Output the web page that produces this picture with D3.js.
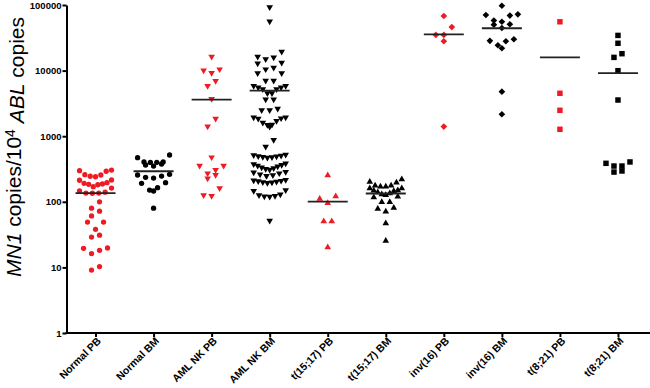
<!DOCTYPE html>
<html>
<head>
<meta charset="utf-8">
<script src="https://cdn.jsdelivr.net/npm/d3@7"></script>
<style>
  body { margin: 0; background: #fff; }
  svg { font-family: "Liberation Sans", Arial, sans-serif; }
  .axis path, .axis line { stroke: #000; stroke-width: 2; }
  .axis text { font-size: 9.5px; font-weight: bold; fill: #000; }
  .xaxis text { font-size: 10.5px; }
</style>
</head>
<body>
<div id="chart"></div>
<script>
// categories along the x axis
var categories = ["Normal PB", "Normal BM", "AML NK PB", "AML NK BM", "t(15;17) PB",
                  "t(15;17) BM", "inv(16) PB", "inv(16) BM", "t(8;21) PB", "t(8;21) BM"];

// MN1 copies / 10^4 ABL copies
var normalPB = [305, 298, 292, 259, 256, 245, 241, 215, 213, 196, 191, 187, 185, 182,
                170, 162, 146, 140, 136, 136, 135, 100, 80, 72, 61, 49, 49, 38, 31, 29,
                19.8, 19.5, 18.2, 16.2, 10.3, 9.1];
var normalBM = [517, 470, 405, 405, 400, 398, 377, 364, 351, 262, 256, 247, 236, 230,
                196, 191, 164, 151, 146, 80];
var amlNkPB = [16300, 10470, 10100, 9190, 6940, 5820, 3690, 1850, 1415, 477, 355, 355,
               305, 272, 256, 228, 161, 126, 123];
var amlNkBM = [92300, 56400, 19400, 16300, 15900, 14900, 13200, 12900, 11100, 10470,
               9100, 9100, 7020, 7020, 5820, 5820, 5560, 5560, 5190, 5190, 4510, 4510,
               3650, 3650, 2620, 2500, 2500, 1940, 1940, 1875, 1850, 1706, 1607, 1497,
               1480, 1397, 875, 692,
               525, 515, 505, 495, 490, 485, 480, 470,
               385, 375, 365, 355, 345, 335, 325, 318, 310,
               285, 280, 272, 262, 255, 248,
               215, 212, 209, 206, 203, 200, 197, 194,
               150, 146, 130, 126, 123, 121, 120, 51.5];
var t1517PB = [254, 121, 111, 96, 50.5, 50.5, 20.2];
var t1517BM = [220, 202, 196, 176, 176, 170, 170, 161, 161, 150, 148, 146, 140, 135,
               130, 127, 120, 117, 99, 99, 81, 78, 71, 47, 25.5];
var inv16PB = [68000, 46000, 35000, 35000, 28000, 1400];
var inv16BM = [97500, 72100, 70400, 68900, 58100, 55500, 50800, 50100, 44600, 30000,
               28400, 28000, 24300, 21900, 4770, 2160];
var t821PB = [55500, 4510, 2480, 1275];
var t821BM = [34400, 26100, 18100, 15900, 9970, 3560, 405, 386, 351, 351, 295, 284];

var yTicks = [1, 10, 100, 1000, 10000, 100000];

var seriesValues = [normalPB, normalBM, amlNkPB, amlNkBM, t1517PB,
                    t1517BM, inv16PB, inv16BM, t821PB, t821BM];

// marker style for each column
var red = "#ed1c24";
var markers = [
  {shape: "circle", color: red}, {shape: "circle", color: "#000"},
  {shape: "down", color: red}, {shape: "down", color: "#000"},
  {shape: "up", color: red}, {shape: "up", color: "#000"},
  {shape: "diamond", color: red}, {shape: "diamond", color: "#000"},
  {shape: "square", color: red}, {shape: "square", color: "#000"}
];

var w = 650;
var h = 388;

var svg = d3.select("#chart").append("svg")
  .attr("width", w)
  .attr("height", h);

var yScale = d3.scaleLog().domain([1, 100000]).range([333, 5]);
var xScale = d3.scalePoint().domain(categories).range([66.5, 647]).padding(0.5);

// prism style rows: points close in y share a row, smallest in the middle
function swarm(values, cx){
  var pts = values.map(function(v){ return {v: v, y: yScale(v)}; })
    .sort(function(a, b){ return a.y - b.y; });
  var out = [];
  var i = 0;
  while (i < pts.length){
    var start = pts[i].y;
    var row = [];
    while (i < pts.length && pts[i].y - start <= 7.8){ row.push(pts[i]); i++; }
    row.sort(function(a, b){ return a.v - b.v; });
    var n = row.length;
    var gap = n > 1 ? Math.min(8, 32 / (n - 1)) : 0;
    row.forEach(function(p, k){
      var slot;
      if (n % 2 == 1){
        slot = k == 0 ? 0 : (k % 2 == 1 ? -Math.ceil(k / 2) : Math.ceil(k / 2));
      } else {
        slot = (k % 2 == 0 ? -1 : 1) * (Math.floor(k / 2) + 0.5);
      }
      out.push({v: p.v, x: cx + slot * gap, y: p.y});
    });
  }
  return out;
}

function symbolPath(shape){
  if (shape == "circle") return d3.symbol(d3.symbolCircle, 22)();
  if (shape == "square") return d3.symbol(d3.symbolSquare, 30)();
  if (shape == "diamond") return d3.symbol(d3.symbolSquare, 22)();
  return d3.symbol(d3.symbolTriangle, 19)();
}
function symbolRotate(shape){
  if (shape == "down") return 180;
  if (shape == "diamond") return 45;
  return 0;
}

// y axis
var yAxis = d3.axisLeft(yScale).tickValues(yTicks).tickFormat(d3.format("d"))
  .tickSize(4).tickSizeOuter(0);
svg.append("g")
  .attr("class", "axis")
  .attr("transform", "translate(66.5, 0)")
  .call(yAxis)
  .selectAll("text").attr("x", -5);

// x axis
var xAxis = d3.axisBottom(xScale).tickSize(4).tickSizeOuter(0);
var gx = svg.append("g")
  .attr("class", "axis xaxis")
  .attr("transform", "translate(0, 333)")
  .call(xAxis);
gx.select(".domain").remove();
gx.append("line")
  .attr("x1", 65.5).attr("x2", w)
  .attr("y1", 0).attr("y2", 0);
gx.selectAll("text")
  .attr("x", 0).attr("y", 0).attr("dy", "0.35em")
  .attr("text-anchor", "end")
  .attr("transform", "translate(3, 6) rotate(-45)");

// y title
var title = svg.append("text")
  .attr("transform", "translate(21, 147) rotate(-90)")
  .attr("text-anchor", "middle")
  .style("font-size", "21px");
title.append("tspan").style("font-style", "italic").text("MN1");
title.append("tspan").text(" copies/10");
title.append("tspan").attr("dy", "-0.45em").style("font-size", "14px").text("4");
title.append("tspan").attr("dy", "0.45em").text(" ");
title.append("tspan").style("font-style", "italic").text("ABL");
title.append("tspan").text(" copies");

// points and mean lines
seriesValues.forEach(function(values, i){
  var cx = xScale(categories[i]);
  var m = markers[i];
  svg.append("g").selectAll("path")
    .data(swarm(values, cx))
    .enter().append("path")
    .attr("d", symbolPath(m.shape))
    .attr("transform", function(d){
      return "translate(" + d.x + "," + d.y + ") rotate(" + symbolRotate(m.shape) + ")";
    })
    .attr("fill", m.color);

  var mean = d3.mean(values);
  svg.append("line")
    .attr("x1", cx - 20).attr("x2", cx + 20)
    .attr("y1", yScale(mean)).attr("y2", yScale(mean))
    .attr("stroke", "#222")
    .attr("stroke-width", 1.8);
});
</script>
</body>
</html>
